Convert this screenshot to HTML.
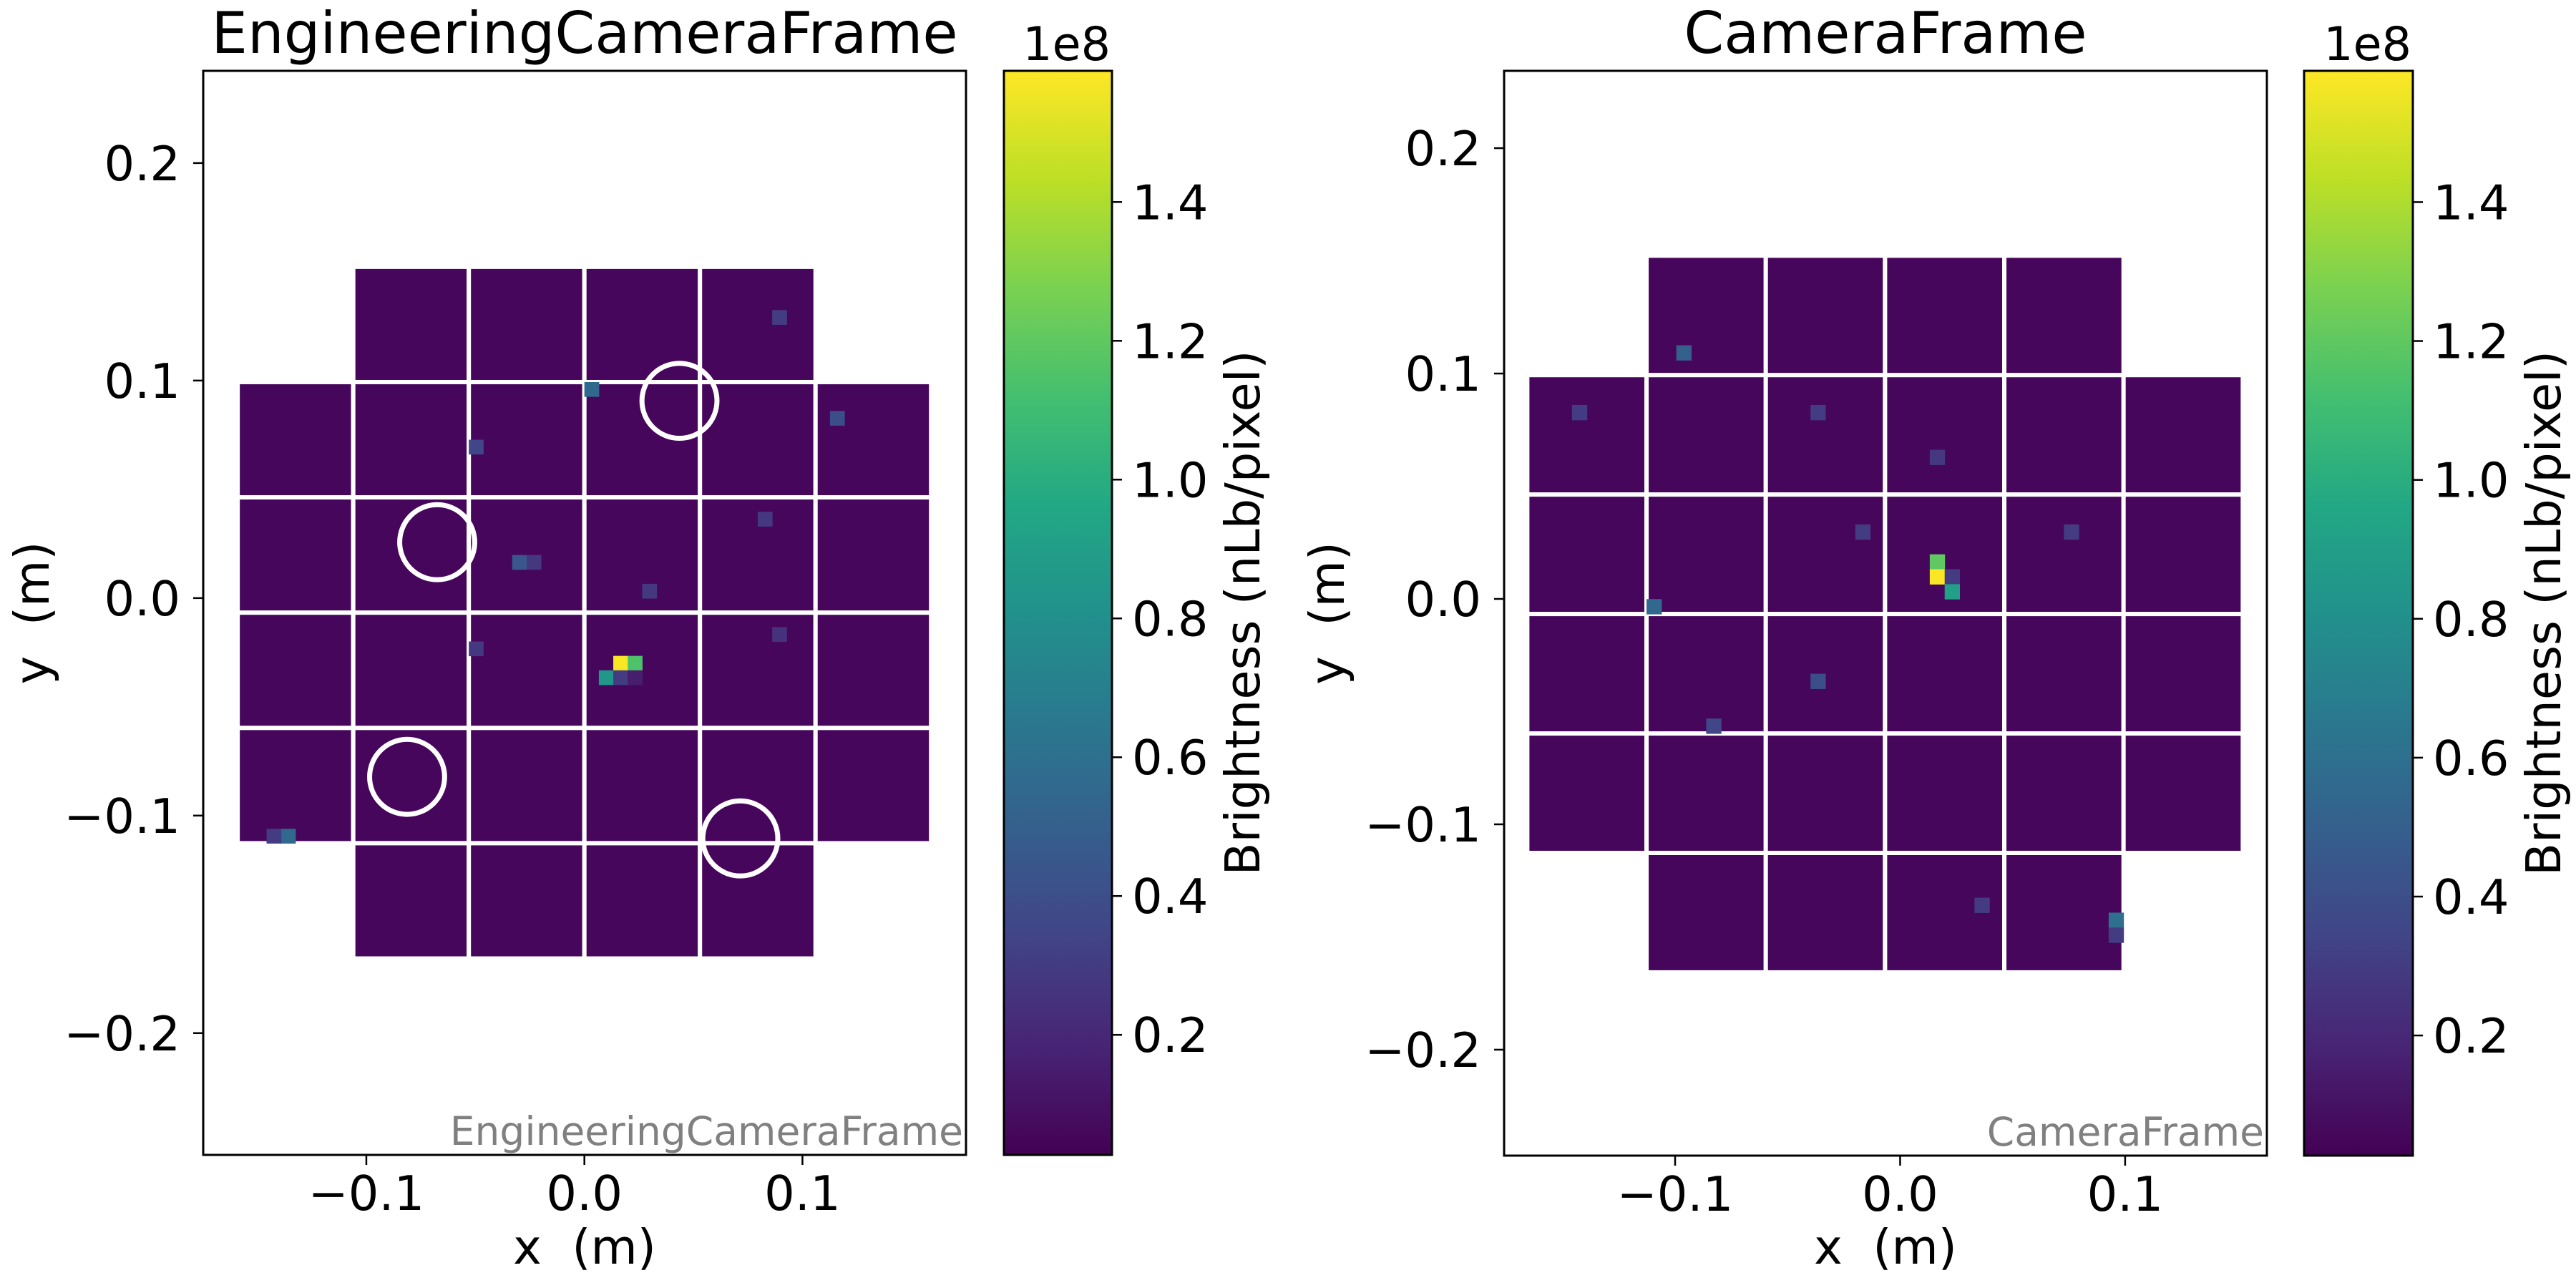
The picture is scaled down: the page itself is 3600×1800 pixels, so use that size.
<!DOCTYPE html>
<html><head><meta charset="utf-8">
<style>
html,body{margin:0;padding:0;background:#fff;}
svg{display:block;font-family:"DejaVu Sans","Liberation Sans",sans-serif;}
</style></head>
<body>
<svg id="fig" width="3600" height="1800" viewBox="0 0 3600 1800" xmlns="http://www.w3.org/2000/svg">
<defs>
<linearGradient id="viridis" x1="0" y1="1" x2="0" y2="0">
<stop offset="0" stop-color="#440154"/><stop offset="0.1" stop-color="#482475"/>
<stop offset="0.2" stop-color="#414487"/><stop offset="0.3" stop-color="#355f8d"/>
<stop offset="0.4" stop-color="#2a788e"/><stop offset="0.5" stop-color="#21918c"/>
<stop offset="0.6" stop-color="#22a884"/><stop offset="0.7" stop-color="#44bf70"/>
<stop offset="0.8" stop-color="#7ad151"/><stop offset="0.9" stop-color="#bddf26"/>
<stop offset="1" stop-color="#fde725"/>
</linearGradient>
</defs>
</svg>
<script>
// ---- data ----
const axisTicks = [-0.2, -0.1, 0.0, 0.1, 0.2];
const axisTickLabels = ["\u22120.2", "\u22120.1", "0.0", "0.1", "0.2"];
const cbTicks = [0.2, 0.4, 0.6, 0.8, 1.0, 1.2, 1.4];
const cbTickLabels = ["0.2", "0.4", "0.6", "0.8", "1.0", "1.2", "1.4"];
const cbMin = 0.027, cbMax = 1.589;
// hot cells: x (m), y (m), brightness (1e8 nLb/pixel)
const leftHotX = [0.0170, 0.0236, 0.0108, 0.0170, 0.0236, 0.0036, -0.136, 0.1167, -0.050, 0.0895, -0.0298, -0.0236, 0.033, 0.083, -0.0495, 0.090, -0.143];
const leftHotY = [-0.0299, -0.0299, -0.0365, -0.0365, -0.0365, 0.0967, -0.109, 0.083, 0.071, 0.1296, 0.0168, 0.0168, 0.0043, 0.0365, -0.0237, -0.017, -0.109];
const leftHotV = [1.58, 1.15, 0.85, 0.30, 0.15, 0.55, 0.55, 0.40, 0.35, 0.30, 0.45, 0.28, 0.28, 0.28, 0.28, 0.25, 0.30];
const rightHotX = [0.0165, 0.0165, 0.023, 0.023, -0.0963, -0.109, -0.143, 0.0957, 0.0957, -0.0337, -0.084, 0.036, 0.0766, -0.018, -0.037, 0.018];
const rightHotY = [0.0175, 0.011, 0.011, 0.0044, 0.1108, -0.0016, 0.0835, -0.1416, -0.148, -0.0356, -0.055, -0.138, 0.030, 0.027, 0.080, 0.065];
const rightHotV = [1.20, 1.58, 0.30, 0.90, 0.50, 0.55, 0.30, 0.60, 0.30, 0.40, 0.35, 0.30, 0.30, 0.30, 0.30, 0.28];
// fiducial circles in left panel
const circleX = [0.0436, -0.0675, -0.0813, 0.0715];
const circleY = [0.0907, 0.0257, -0.0822, -0.1105];
const circleR = 0.0172;

const NS = "http://www.w3.org/2000/svg";
const svg = document.getElementById("fig");
function el(tag, attrs, parent, text){
  const e = document.createElementNS(NS, tag);
  for (const k in attrs) e.setAttribute(k, attrs[k]);
  if (text !== undefined) e.textContent = text;
  (parent || svg).appendChild(e);
  return e;
}
const stops = [[68,1,84],[72,36,117],[65,68,135],[53,95,141],[42,120,142],[33,145,140],[34,168,132],[68,191,112],[122,209,81],[189,223,38],[253,231,37]];
function viridis(v){
  let t = (v - cbMin) / (cbMax - cbMin); t = Math.max(0, Math.min(1, t));
  const f = t * 10, i = Math.min(9, Math.floor(f)), r = f - i;
  const c = stops[i].map((a, k) => Math.round(a + (stops[i+1][k] - a) * r));
  return "rgb(" + c.join(",") + ")";
}

function panel(cfg){
  const g = el("g", {});
  
  
  const X = v => cfg.px0 + (v - cfg.xd0) / (cfg.xd1 - cfg.xd0) * (cfg.px1 - cfg.px0);
  const Y = v => cfg.py1 - (v - cfg.yd0) / (cfg.yd1 - cfg.yd0) * (cfg.py1 - cfg.py0);
  const clip = el("clipPath", {id: cfg.name + "-clip"}, g);
  el("rect", {x: cfg.px0, y: cfg.py0, width: cfg.px1 - cfg.px0, height: cfg.py1 - cfg.py0}, clip);
  const plot = el("g", {"clip-path": "url(#" + cfg.name + "-clip)"}, g);
  const sz = 0.053, cw = sz / 8;
  for (let r = 0; r < 6; r++) for (let c = 0; c < 6; c++) {
    if ((r === 0 || r === 5) && (c === 0 || c === 5)) continue;
    const x0 = cfg.gx0 + c * sz, y0 = cfg.gy0 - r * sz;
    const s = el("rect", {x: X(x0), y: Y(y0), width: X(x0 + sz) - X(x0), height: Y(y0 - sz) - Y(y0), fill: "#46065b", stroke: "#fff", "stroke-width": 6}, plot);
    
    
  }
  for (let i = 0; i < cfg.hx.length; i++) {
    const ci = Math.floor((cfg.hx[i] - cfg.gx0) / cw), cj = Math.floor((cfg.gy0 - cfg.hy[i]) / cw);
    const x0 = cfg.gx0 + ci * cw, y0 = cfg.gy0 - cj * cw;
    const h = el("rect", {x: X(x0), y: Y(y0), width: X(x0 + cw) - X(x0) + 0.5, height: Y(y0 - cw) - Y(y0) + 0.5, fill: viridis(cfg.hv[i])}, plot);
    
    
  }
  if (cfg.circles) for (let i = 0; i < circleX.length; i++) {
    const c = el("circle", {cx: X(circleX[i]), cy: Y(circleY[i]), r: X(circleR) - X(0), fill: "none", stroke: "#fff", "stroke-width": 7}, plot);
    
    
  }
  const wm = el("text", {x: cfg.px1 - 4, y: cfg.py1 - 14, "text-anchor": "end", "font-size": 55, fill: "#808080"}, g, cfg.title);
  
  
  const box = el("rect", {x: cfg.px0, y: cfg.py0, width: cfg.px1 - cfg.px0, height: cfg.py1 - cfg.py0, fill: "none", stroke: "#000", "stroke-width": 3}, g);
  
  
  axisTicks.forEach((t, i) => {
    const xp = X(t);
    if (xp > cfg.px0 && xp < cfg.px1) {
      el("line", {x1: xp, x2: xp, y1: cfg.py1, y2: cfg.py1 + 14, stroke: "#000", "stroke-width": 2.5}, g);
      const tl = el("text", {x: xp, y: cfg.py1 + 77, "text-anchor": "middle", "font-size": 67}, g, axisTickLabels[i]);
      
      
    }
    const yp = Y(t);
    if (yp > cfg.py0 && yp < cfg.py1) {
      el("line", {x1: cfg.px0, x2: cfg.px0 - 14, y1: yp, y2: yp, stroke: "#000", "stroke-width": 2.5}, g);
      const tl = el("text", {x: cfg.px0 - 32, y: yp + 24, "text-anchor": "end", "font-size": 67}, g, axisTickLabels[i]);
      
      
    }
  });
  const cx = (cfg.px0 + cfg.px1) / 2, cy = (cfg.py0 + cfg.py1) / 2;
  const ti = el("text", {x: cx, y: 74, "text-anchor": "middle", "font-size": 80}, g, cfg.title);
  
  
  const xl = el("text", {x: cx, y: 1766, "text-anchor": "middle", "font-size": 67}, g, "x\u00a0\u00a0(m)");
  
  
  const yl = el("text", {x: cfg.ylx, y: cy, "text-anchor": "middle", "font-size": 67, transform: "rotate(-90 " + cfg.ylx + " " + cy + ")"}, g, "y\u00a0\u00a0(m)");
  
  
  const CY = v => cfg.py1 - (v - cbMin) / (cbMax - cbMin) * (cfg.py1 - cfg.py0);
  const cb = el("rect", {x: cfg.cb0, y: cfg.py0, width: cfg.cb1 - cfg.cb0, height: cfg.py1 - cfg.py0, fill: "url(#viridis)", stroke: "#000", "stroke-width": 3}, g);
  
  
  cbTicks.forEach((t, i) => {
    const yp = CY(t);
    el("line", {x1: cfg.cb1, x2: cfg.cb1 + 14, y1: yp, y2: yp, stroke: "#000", "stroke-width": 2.5}, g);
    const tl = el("text", {x: cfg.cb1 + 28, y: yp + 24, "font-size": 67}, g, cbTickLabels[i]);
    
    
  });
  const off = el("text", {x: cfg.cb1 - 2, y: 84, "text-anchor": "end", "font-size": 65}, g, "1e8");
  
  
  const lx = cfg.cb1 + 206;
  const cl = el("text", {x: lx, y: cy, "text-anchor": "middle", "font-size": 67, transform: "rotate(-90 " + lx + " " + cy + ")"}, g, "Brightness (nLb/pixel)");
  
  
}

panel({name: "engineering", title: "EngineeringCameraFrame", px0: 284, px1: 1350, py0: 99, py1: 1614,
  xd0: -0.1748, xd1: 0.175, yd0: -0.256, yd1: 0.2424, gx0: -0.159, gy0: 0.1523,
  hx: leftHotX, hy: leftHotY, hv: leftHotV, circles: true, ylx: 68, cb0: 1403, cb1: 1554});
panel({name: "camera", title: "CameraFrame", px0: 2102, px1: 3168, py0: 99, py1: 1615,
  xd0: -0.176, xd1: 0.163, yd0: -0.247, yd1: 0.2343, gx0: -0.1657, gy0: 0.1523,
  hx: rightHotX, hy: rightHotY, hv: rightHotV, circles: false, ylx: 1878, cb0: 3220, cb1: 3372});
</script>
</body></html>
